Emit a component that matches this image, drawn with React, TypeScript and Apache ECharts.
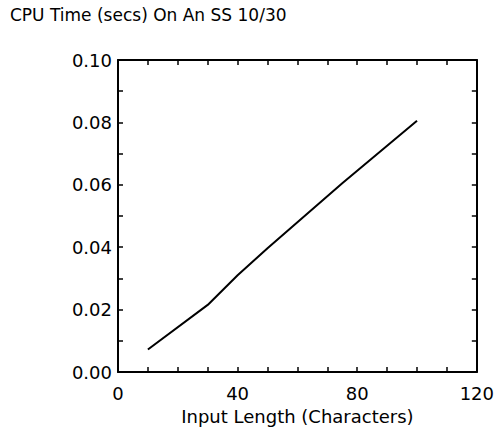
import React, { useEffect, useRef } from "react";
import * as echarts from "echarts";

const titleText = "CPU Time (secs) On An SS 10/30";
const xName = "Input Length (Characters)";
const inputLength = [10, 30, 40, 50, 75, 100];
const cpuTime = [0.0072, 0.0215, 0.031, 0.0397, 0.0605, 0.0805];

const FONT = "DejaVu Sans";

export default function App() {
  const ref = useRef<HTMLDivElement>(null);
  useEffect(() => {
    if (!ref.current) return;
    const chart = echarts.init(ref.current, null, { renderer: "svg" });
    const axisLine = { show: true, onZero: false, lineStyle: { color: "#000", width: 2 } };
    const tickIn = { show: true, inside: true, length: 5, lineStyle: { color: "#000", width: 1.5 } };
    const minorIn = { show: true, length: 5, lineStyle: { color: "#000", width: 1.5 } };
    chart.setOption({
      animation: false,
      backgroundColor: "#fff",
      title: {
        text: titleText,
        left: 10,
        top: 6,
        padding: 0,
        textStyle: { fontFamily: FONT, fontSize: 17, fontWeight: "normal", color: "#000" },
      },
      grid: { left: 118, top: 60, right: 20, bottom: 58, containLabel: false },
      xAxis: [
        {
          type: "value",
          min: 0,
          max: 120,
          interval: 40,
          position: "bottom",
          name: xName,
          nameLocation: "middle",
          nameGap: 35,
          nameTextStyle: { fontFamily: FONT, fontSize: 18, color: "#000" },
          axisLine,
          axisTick: tickIn,
          minorTick: { ...minorIn, splitNumber: 4 },
          axisLabel: { fontFamily: FONT, fontSize: 18, color: "#000", margin: 12 },
          splitLine: { show: false },
        },
        {
          type: "value",
          min: 0,
          max: 120,
          interval: 40,
          position: "top",
          axisLine,
          axisTick: tickIn,
          minorTick: { ...minorIn, splitNumber: 4 },
          axisLabel: { show: false },
          splitLine: { show: false },
        },
      ],
      yAxis: [
        {
          type: "value",
          min: 0,
          max: 0.1,
          interval: 0.02,
          position: "left",
          axisLine,
          axisTick: tickIn,
          minorTick: { ...minorIn, splitNumber: 2 },
          axisLabel: {
            fontFamily: FONT,
            fontSize: 18,
            color: "#000",
            margin: 6,
            formatter: (v: number) => v.toFixed(2),
          },
          splitLine: { show: false },
        },
        {
          type: "value",
          min: 0,
          max: 0.1,
          interval: 0.02,
          position: "right",
          axisLine,
          axisTick: tickIn,
          minorTick: { ...minorIn, splitNumber: 2 },
          axisLabel: { show: false },
          splitLine: { show: false },
        },
      ],
      series: [
        {
          type: "line",
          xAxisIndex: 0,
          yAxisIndex: 0,
          data: inputLength.map((x, i) => [x, cpuTime[i]]),
          showSymbol: false,
          symbol: "none",
          lineStyle: { color: "#000", width: 2 },
        },
      ],
    });
    return () => chart.dispose();
  }, []);
  return <div ref={ref} style={{ width: 497, height: 430, position: "absolute", left: 0, top: 0 }} />;
}
